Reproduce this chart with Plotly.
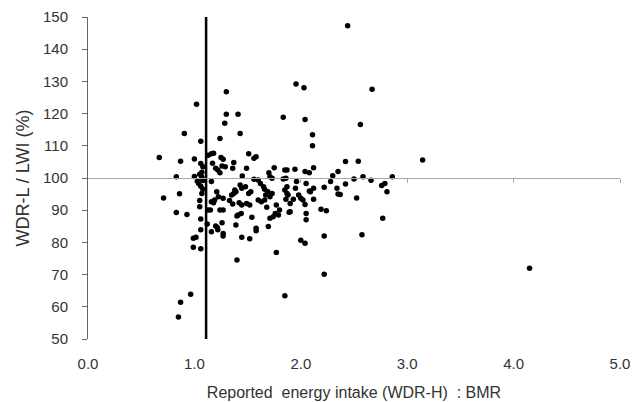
import plotly.graph_objects as go

# Reported energy intake : BMR (x) and WDR-L / LWI % (y)
ratio_x = [0.67, 0.71, 0.83, 0.83, 0.87, 0.86, 0.905, 0.93, 0.965, 0.87, 0.85, 1.02, 1.06, 1.00, 1.06, 1.08, 1.00,
           1.05, 1.07, 1.08, 1.04, 1.06, 1.08, 1.07, 1.05, 1.06, 1.06, 0.99, 1.015, 0.99, 1.06, 1.03, 1.07, 1.05,
           1.13, 1.16, 1.18, 1.17, 1.16, 1.13, 1.15, 1.12, 1.16, 1.16, 1.18, 1.19,
           1.24, 1.30, 1.30, 1.285, 1.25, 1.27, 1.26, 1.29, 1.22, 1.24, 1.20, 1.21, 1.225, 1.27, 1.27, 1.24, 1.20,
           1.26, 1.22, 1.27, 1.27, 1.215,
           1.41, 1.43, 1.37, 1.36, 1.45, 1.37, 1.35, 1.38, 1.43, 1.445, 1.48, 1.36, 1.42, 1.445, 1.49, 1.41, 1.44,
           1.40, 1.39, 1.445, 1.40, 1.39, 1.33,
           1.51, 1.56, 1.58, 1.49, 1.56, 1.51, 1.53, 1.52, 1.54, 1.52, 1.58, 1.58, 1.60, 1.62, 1.65, 1.66, 1.69,
           1.67, 1.60, 1.63, 1.66, 1.68, 1.695,
           1.70, 1.75, 1.71, 1.73, 1.71, 1.73, 1.77, 1.80, 1.76, 1.79, 1.71, 1.74, 1.77, 1.835, 1.835, 1.85, 1.87,
           1.86, 1.85, 1.87, 1.87, 1.86, 1.88, 1.89, 1.85,
           1.955, 2.03, 2.04, 1.945, 1.96, 1.95, 1.90, 1.93, 1.98, 2.00, 2.02, 1.90, 2.04, 2.05, 2.05, 2.05, 2.04,
           2.00, 2.04, 2.08, 2.08,
           2.11, 2.11, 2.12, 2.12, 2.09, 2.12, 2.19, 2.24, 2.22, 2.22, 2.22, 2.28, 2.30, 2.35, 2.35, 2.34, 2.37,
           2.42, 2.42, 2.44, 2.56, 2.54, 2.50, 2.585, 2.66, 2.86, 2.76, 2.79, 2.81, 2.525, 2.77, 2.575, 2.67,
           3.145, 4.15]
wdr_y = [106.4, 93.8, 100.4, 89.3, 105.2, 95.1, 113.8, 88.7, 63.9, 61.4, 56.8, 122.9, 111.4, 105.9, 104.5, 103.5, 100.5,
         101.2, 100.2, 99.2, 98.3, 97.4, 96.5, 95.2, 91.1, 87.3, 83.9, 81.3, 81.6, 78.5, 78.0, 99.0, 101.8, 93.0,
         107.1, 107.5, 107.7, 104.6, 98.9, 90.1, 90.1, 85.7, 83.3, 92.6, 92.3, 93.2,
         112.3, 126.8, 119.8, 117.0, 106.4, 105.8, 103.7, 103.5, 102.5, 101.6, 103.0, 95.7, 94.2, 93.7, 90.1, 90.1, 85.1,
         86.1, 83.9, 82.8, 82.0, 84.6,
         119.8, 113.8, 104.8, 103.0, 100.6, 95.2, 94.7, 96.3, 97.8, 96.8, 97.3, 91.9, 92.3, 91.6, 92.1, 88.5, 89.0,
         88.2, 85.4, 81.6, 74.5, 95.7, 93.0,
         107.5, 106.1, 106.6, 103.0, 99.6, 95.2, 95.7, 91.6, 87.8, 81.1, 84.4, 83.6, 99.4, 98.3, 97.3, 96.5, 95.7,
         94.7, 93.2, 92.6, 93.2, 90.9, 84.9,
         101.6, 103.2, 100.4, 99.9, 94.2, 95.2, 91.6, 90.1, 89.0, 88.5, 87.5, 88.0, 76.9, 118.9, 99.7, 102.5, 102.5,
         99.9, 96.3, 97.3, 95.2, 93.4, 94.7, 89.4, 63.4,
         129.2, 128.0, 118.2, 102.7, 98.9, 96.8, 92.1, 93.4, 94.7, 93.7, 93.2, 89.5, 102.0, 98.3, 89.0, 87.0, 91.8,
         80.7, 79.7, 101.6, 96.0,
         113.4, 110.0, 103.2, 96.8, 95.7, 93.4, 90.3, 89.8, 97.1, 82.0, 70.1, 98.9, 100.7, 102.0, 95.0, 96.8, 94.9,
         98.1, 105.1, 147.3, 116.6, 105.2, 99.7, 100.4, 99.3, 100.4, 97.7, 98.3, 95.7, 93.8, 87.5, 82.4, 127.6,
         105.6, 72.0]

cutoff_x = [1.11, 1.11]
cutoff_y = [50, 150]
x_ticks = [0, 1, 2, 3, 4, 5]
x_labels = ["0.0", "1.0", "2.0", "3.0", "4.0", "5.0"]
y_ticks = [50, 60, 70, 80, 90, 100, 110, 120, 130, 140, 150]

fig = go.Figure()
fig.add_trace(go.Scatter(x=ratio_x, y=wdr_y, mode="markers",
                         marker=dict(color="black", size=5.5, line=dict(width=0)),
                         showlegend=False, hoverinfo="skip"))
fig.add_trace(go.Scatter(x=cutoff_x, y=cutoff_y, mode="lines",
                         line=dict(color="black", width=2.5),
                         showlegend=False, hoverinfo="skip"))
# axis line crossing at y=100 (overlaying x-axis, ticks only)
fig.add_trace(go.Scatter(x=[0, 5], y=[100, 100], xaxis="x2", mode="lines",
                         line=dict(color="rgba(0,0,0,0)", width=0), showlegend=False, hoverinfo="skip"))

font_fam = "Liberation Sans, Arial, sans-serif"
fig.update_layout(
    width=642, height=402,
    margin=dict(l=88, r=22, t=17, b=63),
    paper_bgcolor="white", plot_bgcolor="white",
    font=dict(family=font_fam, size=15, color="#333333"),
    xaxis=dict(range=[0, 5], tickvals=x_ticks, ticktext=x_labels, showline=False, ticks="",
               showgrid=False, zeroline=False, tickfont=dict(size=15, color="#333333"),
               ticklabelstandoff=14, automargin=False,
               title=dict(text="\u00a0\u00a0\u00a0Reported\u00a0 energy intake (WDR-H)\u00a0 : BMR",
                          font=dict(size=16, color="#333333"), standoff=15)),
    xaxis2=dict(range=[0, 5], overlaying="x", anchor="free", position=0.5, side="bottom",
                showline=True, linecolor="#a6a6a6", linewidth=1, ticks="outside", ticklen=4,
                tickcolor="#a6a6a6", tickvals=x_ticks[1:], showticklabels=False,
                showgrid=False, zeroline=False, automargin=False),
    yaxis=dict(range=[50, 150], tickvals=y_ticks, showline=True, linecolor="#666666", linewidth=1,
               ticks="outside", ticklen=5, tickcolor="#666666", showgrid=False, zeroline=False,
               tickfont=dict(size=15, color="#333333"), ticklabelstandoff=11, automargin=False,
               title=dict(text="WDR-L / LWI (%)", font=dict(size=18, color="#333333"), standoff=8)),
)

fig.write_html("out.html", config={"displayModeBar": False, "staticPlot": True},
               post_script="document.body.style.margin='0';")
